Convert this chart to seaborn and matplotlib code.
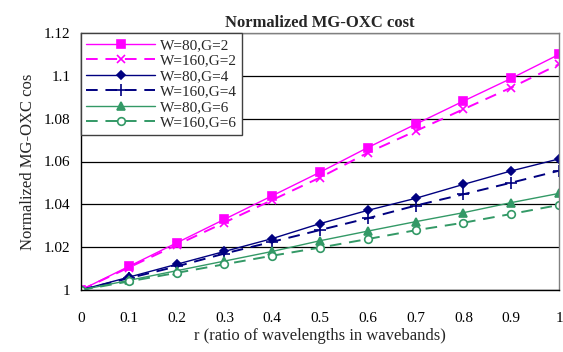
import numpy as np
import pandas as pd
import matplotlib
matplotlib.use("Agg")
import matplotlib.pyplot as plt
import seaborn as sns
from matplotlib.ticker import FuncFormatter

r = [0, 0.1, 0.2, 0.3, 0.4, 0.5, 0.6, 0.7, 0.8, 0.9, 1.0]

w80_g2 = [1.0, 1.011, 1.022, 1.033, 1.044, 1.055, 1.0665, 1.0774, 1.0882, 1.0988, 1.110]
w160_g2 = [1.0, 1.0105, 1.021, 1.0315, 1.042, 1.0525, 1.0641, 1.0742, 1.0844, 1.0945, 1.1054]
w80_g4 = [1.0, 1.006, 1.012, 1.018, 1.024, 1.031, 1.0372, 1.0428, 1.0493, 1.0556, 1.0612]
w160_g4 = [1.0, 1.0055, 1.011, 1.017, 1.0225, 1.028, 1.0335, 1.0394, 1.0447, 1.0501, 1.0557]
w80_g6 = [1.0, 1.0045, 1.009, 1.0135, 1.018, 1.023, 1.0275, 1.0319, 1.0361, 1.0408, 1.0451]
w160_g6 = [1.0, 1.004, 1.008, 1.012, 1.016, 1.0198, 1.0238, 1.0279, 1.0314, 1.0355, 1.0397]

labels = ["W=80,G=2", "W=160,G=2", "W=80,G=4", "W=160,G=4", "W=80,G=6", "W=160,G=6"]
series = [w80_g2, w160_g2, w80_g4, w160_g4, w80_g6, w160_g6]

magenta = "#ff00ff"
navy = "#000080"
green = "#339966"
styles = [
    dict(color=magenta, marker="s", linestyle="-", ms=6, mfc=magenta, lw=1.0),
    dict(color=magenta, marker="x", linestyle=(0, (6, 4)), ms=6, mfc=magenta, lw=1.4),
    dict(color=navy, marker="D", linestyle="-", ms=4.5, mfc=navy, lw=1.0),
    dict(color=navy, marker="+", linestyle=(0, (6, 4)), ms=8, mfc=navy, lw=1.4),
    dict(color=green, marker="^", linestyle="-", ms=6, mfc=green, lw=1.0),
    dict(color=green, marker="o", linestyle=(0, (6, 4)), ms=5.5, mfc="white", lw=1.4),
]

sns.set_style("white")
plt.rcParams["font.family"] = ["Liberation Serif", "DejaVu Serif"]
plt.rcParams["font.size"] = 11

fig = plt.figure(figsize=(5.63, 3.52), dpi=100)
ax = fig.add_axes([81 / 563, 1 - 290 / 352, (559 - 81) / 563, (290 - 33) / 352])

for lab, vals, st in zip(labels, series, styles):
    df = pd.DataFrame({"r": r, "cost": vals})
    sns.lineplot(data=df, x="r", y="cost", ax=ax, label=lab,
                 color=st["color"], marker=st["marker"], linestyle=st["linestyle"],
                 markersize=st["ms"], markerfacecolor=st["mfc"],
                 markeredgecolor=st["color"], markeredgewidth=1.2, linewidth=st["lw"])

ax.set_xlim(0, 1)
ax.set_ylim(1, 1.12)
ax.set_xticks(r)
ax.set_yticks([1, 1.02, 1.04, 1.06, 1.08, 1.1, 1.12])
ax.xaxis.set_major_formatter(FuncFormatter(lambda v, p: "%g" % round(v, 2)))
ax.yaxis.set_major_formatter(FuncFormatter(lambda v, p: "%g" % round(v, 2)))
ax.yaxis.grid(True, color="black", linewidth=0.9)
ax.set_axisbelow(True)
ax.tick_params(axis="x", direction="inout", length=8, width=0.8, pad=12, colors="black")
ax.tick_params(axis="y", direction="out", length=4, width=0.8, colors="black")
for s in ["left", "bottom"]:
    ax.spines[s].set_color("black")
    ax.spines[s].set_linewidth(1.0)
for s in ["top", "right"]:
    ax.spines[s].set_color("#808080")
    ax.spines[s].set_linewidth(1.0)

ax.set_xlabel("r (ratio of wavelengths in wavebands)", fontsize=12, labelpad=2)
ax.set_ylabel("Normalized MG-OXC cos", fontsize=12, labelpad=6)
ax.set_title("Normalized MG-OXC cost", fontsize=12, fontweight="bold", pad=4)

leg = ax.legend(loc="upper left", frameon=True, fancybox=False, fontsize=11,
                borderaxespad=0, handlelength=4.5, labelspacing=0.12,
                borderpad=0.35, handletextpad=0.3)
leg.get_frame().set_edgecolor("#404040")
leg.get_frame().set_linewidth(1.0)
leg.get_frame().set_alpha(1)

fig.savefig("out.png", dpi=100)
